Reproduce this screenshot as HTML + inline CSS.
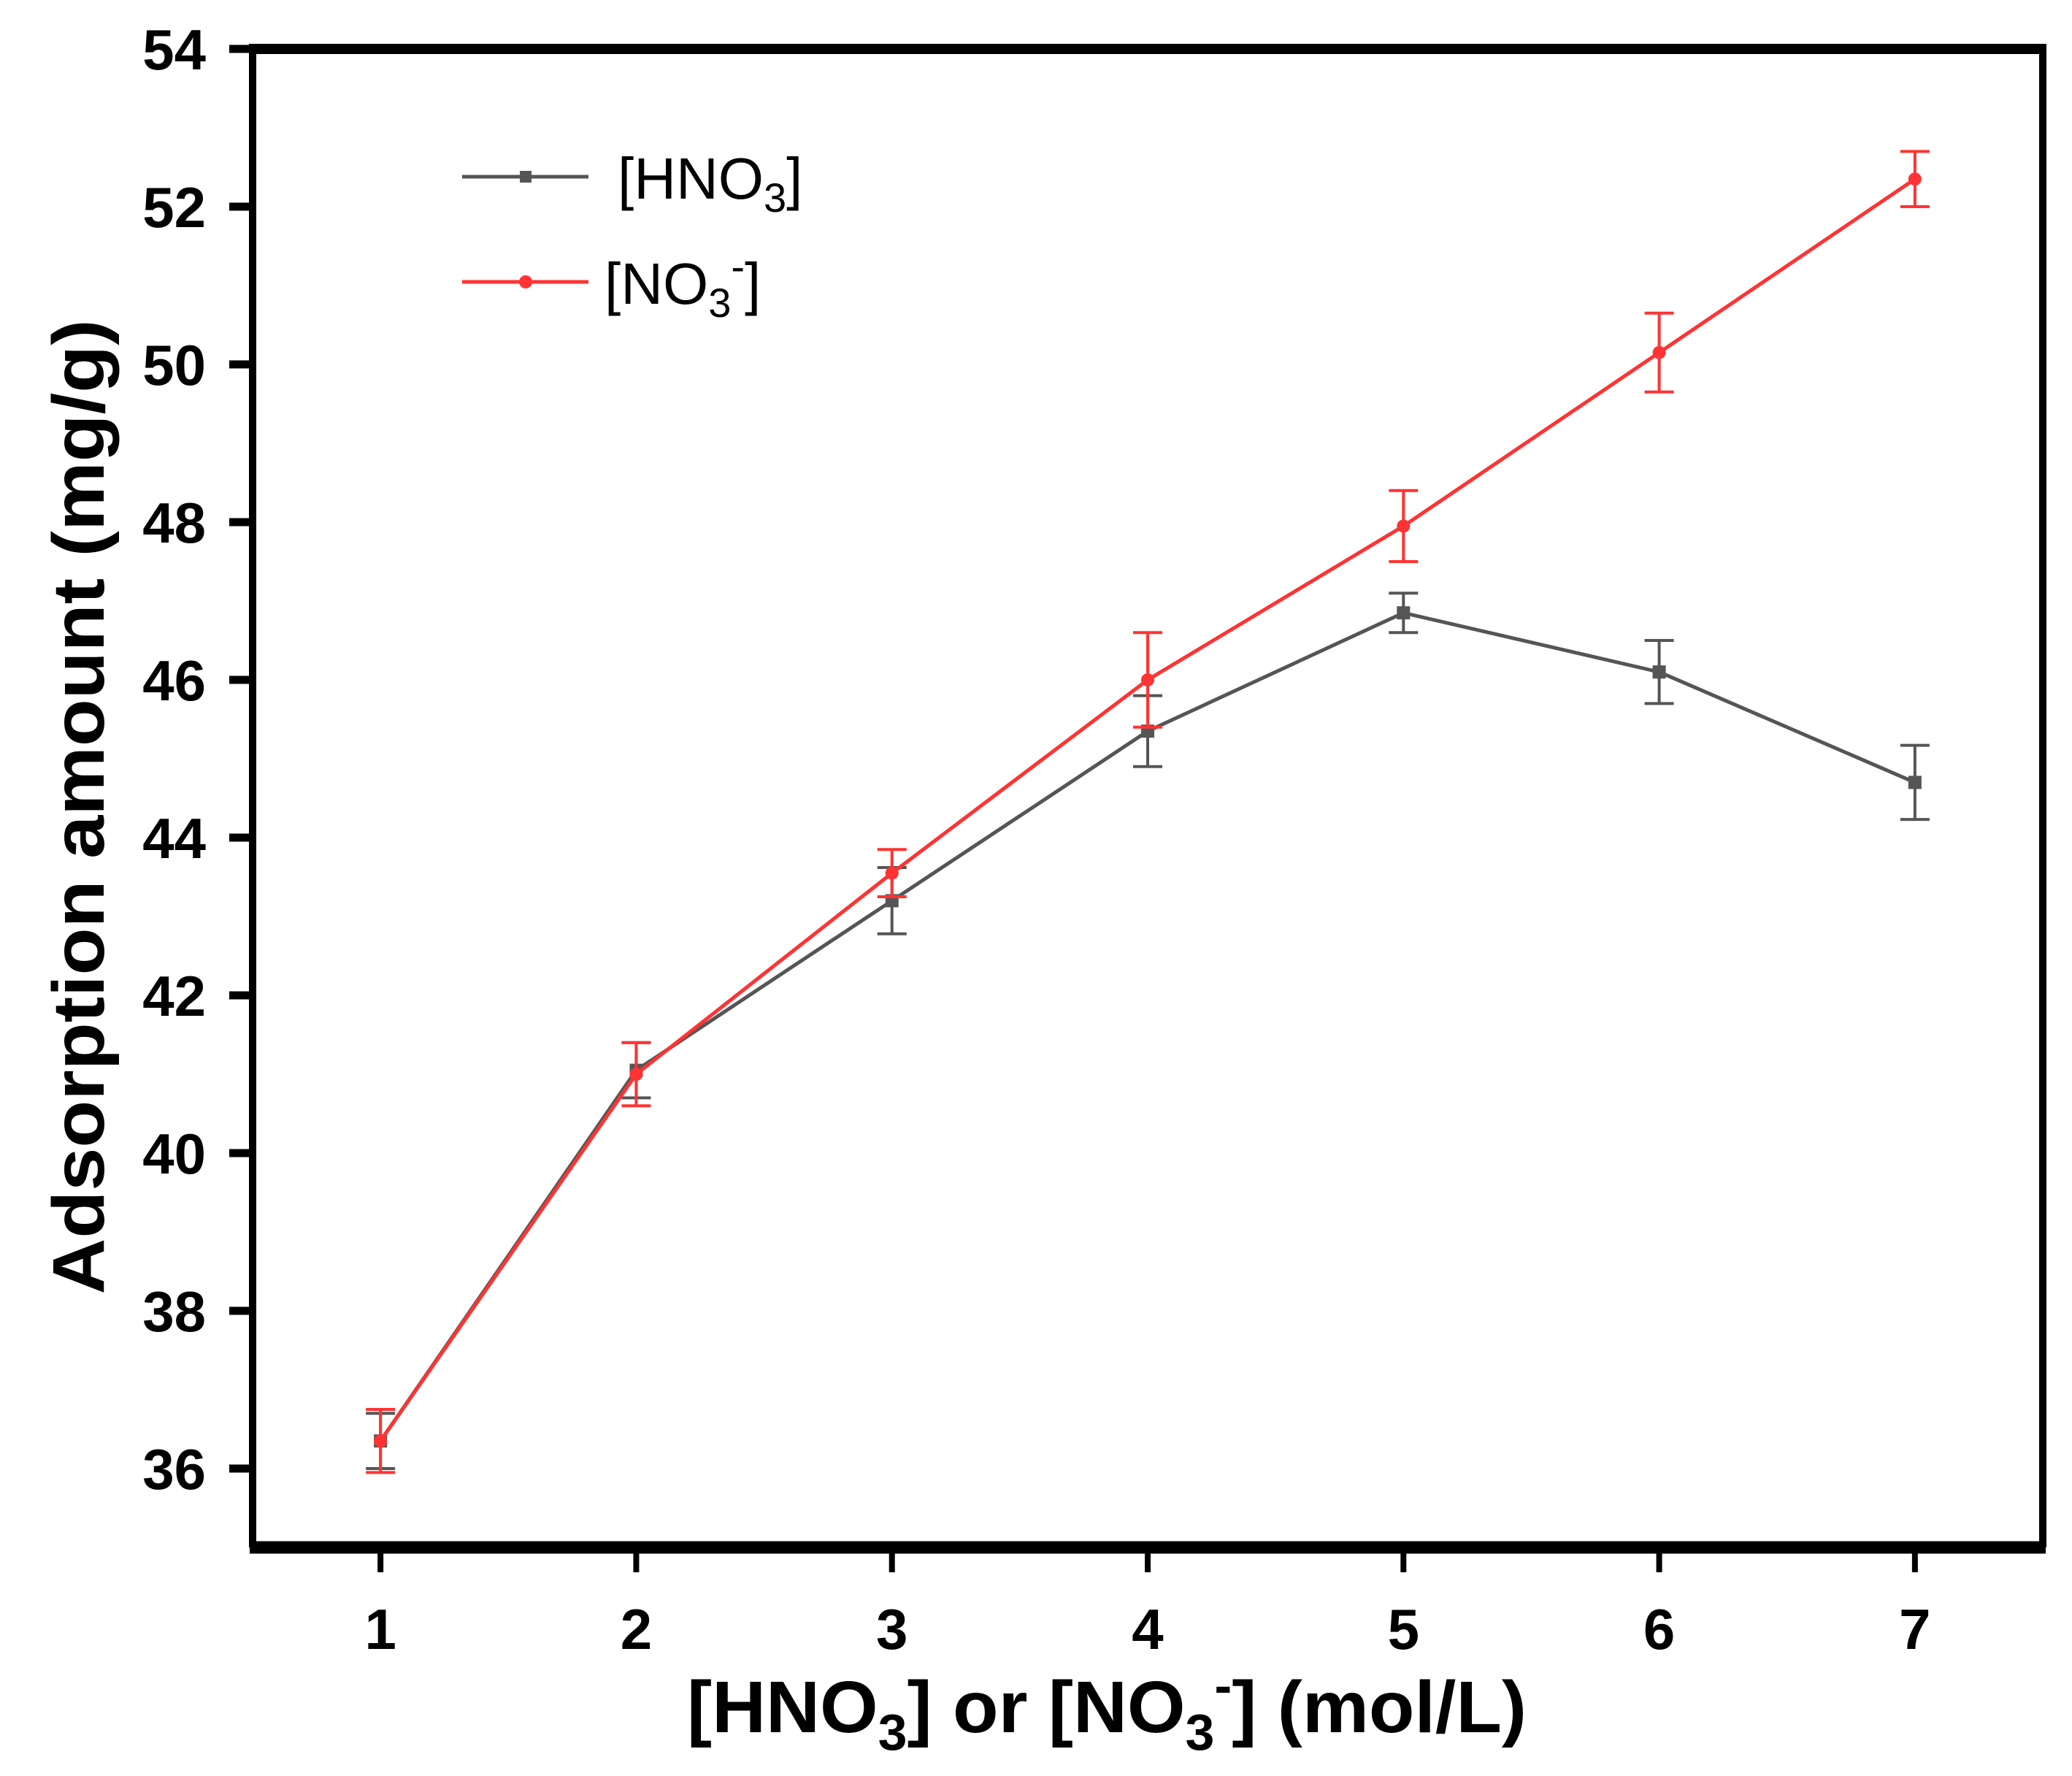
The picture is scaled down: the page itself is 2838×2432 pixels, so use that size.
<!DOCTYPE html>
<html><head><meta charset="utf-8"><style>html,body{margin:0;padding:0;background:#fff}svg{display:block}</style></head>
<body>
<svg id="chart" width="2838" height="2432" viewBox="0 0 2838 2432" xmlns="http://www.w3.org/2000/svg" font-family="Liberation Sans, Arial, sans-serif">
<g id="plot"></g>
<g>
  <line x1="633" y1="242" x2="806" y2="242" stroke="#555" stroke-width="5"/>
  <rect x="712" y="234" width="16" height="16" fill="#555"/>
  <text x="846" y="272" font-size="80">[HNO<tspan font-size="56" dy="18">3</tspan><tspan dy="-18">]</tspan></text>
  <line x1="633" y1="386" x2="806" y2="386" stroke="#f33" stroke-width="5"/>
  <circle cx="720" cy="386" r="9" fill="#f33"/>
  <text x="828" y="416" font-size="80">[NO<tspan font-size="56" dy="18">3</tspan><tspan font-size="56" dy="-50">-</tspan><tspan dy="32">]</tspan></text>
</g>
<text x="1516" y="2372" text-anchor="middle" font-size="100" font-weight="bold" textLength="1150" lengthAdjust="spacingAndGlyphs">[HNO<tspan font-size="70" dy="24">3</tspan><tspan dy="-24">] or [NO</tspan><tspan font-size="70" dy="24">3</tspan><tspan font-size="70" dy="-64">-</tspan><tspan dy="40">] (mol/L)</tspan></text>
<text transform="translate(142,1105) rotate(-90)" text-anchor="middle" font-size="100" font-weight="bold" textLength="1335" lengthAdjust="spacingAndGlyphs">Adsorption amount (mg/g)</text>
</svg>
<script>
const categories = [1,2,3,4,5,6,7];
const hno3Values = [36.35,41.05,43.2,45.35,46.85,46.1,44.7];
const hno3Errors = [0.35,0.35,0.42,0.45,0.25,0.4,0.47];
const no3Values = [36.35,41.0,43.55,46.0,47.95,50.15,52.35];
const no3Errors = [0.4,0.4,0.3,0.6,0.45,0.5,0.35];
const yTicks = [36,38,40,42,44,46,48,50,52,54];
const xTicks = [1,2,3,4,5,6,7];

const L=346,R=2798,T=67,B=2119;
const xMin=0.5,xMax=7.5,yMin=35,yMax=54;
const xs=v=>L+(v-xMin)/(xMax-xMin)*(R-L);
const ys=v=>B-(v-yMin)/(yMax-yMin)*(B-T);
const NS='http://www.w3.org/2000/svg';
const g=document.getElementById('plot');
function mk(tag,attrs,parent){const e=document.createElementNS(NS,tag);for(const k in attrs)e.setAttribute(k,attrs[k]);(parent||g).appendChild(e);return e;}

let e;
e=mk('line',{x1:L,y1:T,x2:R,y2:T,stroke:'#000','stroke-width':14});


e=mk('line',{x1:L-4,y1:B,x2:R+4,y2:B,stroke:'#000','stroke-width':17});


e=mk('line',{x1:L,y1:T-7,x2:L,y2:B,stroke:'#000','stroke-width':10});


e=mk('line',{x1:R,y1:T-7,x2:R,y2:B,stroke:'#000','stroke-width':10});



yTicks.forEach(t=>{
  const y=ys(t);
  let tk=mk('line',{x1:L-32,y1:y,x2:L,y2:y,stroke:'#000','stroke-width':11});
  
  
  let tx=mk('text',{x:282,y:y+28,'text-anchor':'end','font-size':78,'font-weight':'bold'});
  tx.textContent=t;
  
  
});
xTicks.forEach(t=>{
  const x=xs(t);
  let tk=mk('line',{x1:x,y1:B,x2:x,y2:B+34,stroke:'#000','stroke-width':8});
  
  
  let tx=mk('text',{x:x,y:2258,'text-anchor':'middle','font-size':78,'font-weight':'bold'});
  tx.textContent=t;
  
  
});

function series(vals,errs,color,marker,name){
  const sg=mk('g',{});
  
  
  vals.forEach((v,i)=>{
    const x=xs(categories[i]),y1=ys(v+errs[i]),y2=ys(v-errs[i]);
    const eb=mk('path',{d:`M${x-20},${y1}H${x+20}M${x},${y1}V${y2}M${x-20},${y2}H${x+20}`,stroke:color,'stroke-width':4,fill:'none'},sg);
    
    
  });
  const pts=vals.map((v,i)=>xs(categories[i])+','+ys(v)).join(' ');
  const pl=mk('polyline',{points:pts,fill:'none',stroke:color,'stroke-width':5},sg);
  
  
  vals.forEach((v,i)=>{
    const x=xs(categories[i]),y=ys(v);
    let m;
    if(marker==='square') m=mk('rect',{x:x-9,y:y-9,width:18,height:18,fill:color},sg);
    else m=mk('circle',{cx:x,cy:y,r:9,fill:color},sg);
    
    
  });
}
series(hno3Values,hno3Errors,'#555','square','hno3');
series(no3Values,no3Errors,'#f33','circle','no3');
</script>
</body></html>
